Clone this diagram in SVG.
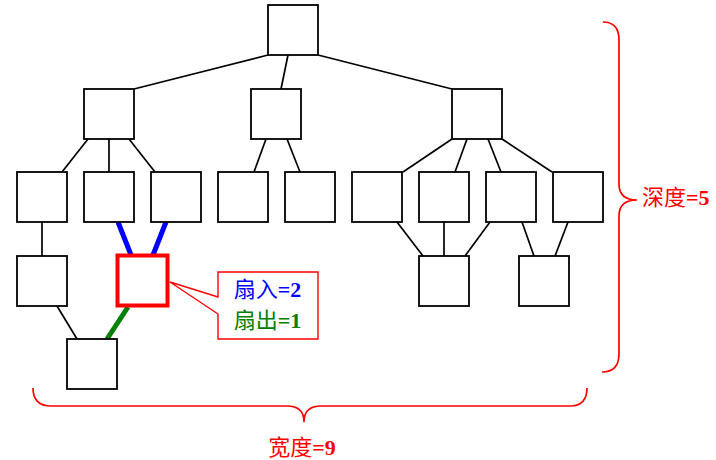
<svg xmlns="http://www.w3.org/2000/svg" width="716" height="460" viewBox="0 0 716 460">
<style>
.box{fill:#fff;stroke:#000;stroke-width:1.8}
.ln{stroke:#000;stroke-width:1.7;fill:none}
.brace{fill:none;stroke:#ff0000;stroke-width:1.7}
.cjk{font-family:"Liberation Serif","Noto Sans CJK SC",serif;font-size:22px}
.num{font-weight:bold}
</style>
<rect width="716" height="460" fill="#fff"/>
<g id="connectors">
<line class="ln" x1="268" y1="55" x2="134" y2="89"/>
<line class="ln" x1="288" y1="55" x2="281" y2="89"/>
<line class="ln" x1="318" y1="55" x2="452" y2="89"/>
<line class="ln" x1="88" y1="139" x2="62" y2="172"/>
<line class="ln" x1="109" y1="139" x2="109" y2="172"/>
<line class="ln" x1="129" y1="139" x2="155" y2="172"/>
<line class="ln" x1="266" y1="139" x2="254" y2="172"/>
<line class="ln" x1="287" y1="139" x2="300" y2="172"/>
<line class="ln" x1="452" y1="139" x2="403" y2="172"/>
<line class="ln" x1="467" y1="139" x2="455" y2="172"/>
<line class="ln" x1="488" y1="139" x2="501" y2="172"/>
<line class="ln" x1="502" y1="139" x2="552" y2="172"/>
<line class="ln" x1="42" y1="222" x2="42" y2="256"/>
<line class="ln" x1="397" y1="222" x2="423" y2="256"/>
<line class="ln" x1="444" y1="222" x2="444" y2="256"/>
<line class="ln" x1="490" y1="222" x2="465" y2="256"/>
<line class="ln" x1="522" y1="222" x2="534" y2="256"/>
<line class="ln" x1="568" y1="222" x2="555" y2="256"/>
<line class="ln" x1="57" y1="306" x2="77" y2="339"/>
<line x1="118" y1="222" x2="131" y2="255" stroke="#0000ff" stroke-width="5"/>
<line x1="166" y1="222" x2="153" y2="255" stroke="#0000ff" stroke-width="5"/>
<line x1="128" y1="307" x2="107" y2="339" stroke="#008000" stroke-width="5"/>
</g>
<g id="n0"><rect class="box" x="268" y="5" width="50" height="50"/></g>
<g id="n1"><rect class="box" x="84" y="89" width="50" height="50"/></g>
<g id="n2"><rect class="box" x="251" y="89" width="50" height="50"/></g>
<g id="n3"><rect class="box" x="452" y="89" width="50" height="50"/></g>
<g id="n4"><rect class="box" x="17" y="172" width="50" height="50"/></g>
<g id="n5"><rect class="box" x="84" y="172" width="50" height="50"/></g>
<g id="n6"><rect class="box" x="151" y="172" width="50" height="50"/></g>
<g id="n7"><rect class="box" x="218" y="172" width="50" height="50"/></g>
<g id="n8"><rect class="box" x="285" y="172" width="50" height="50"/></g>
<g id="n9"><rect class="box" x="352" y="172" width="50" height="50"/></g>
<g id="n10"><rect class="box" x="419" y="172" width="50" height="50"/></g>
<g id="n11"><rect class="box" x="486" y="172" width="50" height="50"/></g>
<g id="n12"><rect class="box" x="553" y="172" width="50" height="50"/></g>
<g id="n13"><rect class="box" x="17" y="256" width="50" height="50"/></g>
<g id="n14"><rect x="117.5" y="255.5" width="50" height="50" fill="#fff" stroke="#ff0000" stroke-width="4"/></g>
<g id="n15"><rect class="box" x="419" y="256" width="50" height="50"/></g>
<g id="n16"><rect class="box" x="519" y="256" width="50" height="50"/></g>
<g id="n17"><rect class="box" x="67" y="339" width="50" height="50"/></g>
<g id="callout">
<path d="M218,272 H318 V339 H218 V314 L170,282 L218,297 Z" fill="#fff" stroke="#ff0000" stroke-width="1.4"/>
<text class="cjk" x="267.5" y="297" text-anchor="middle" fill="#0000ff">扇入<tspan class="num">=2</tspan></text>
<text class="cjk" x="267.5" y="328" text-anchor="middle" fill="#008000">扇出<tspan class="num">=1</tspan></text>
</g>
<g id="depth">
<path class="brace" d="M603,22 Q619,22 619,40 L619,184 Q619,200 637,200 Q619,200 619,216 L619,354 Q619,372 602,372"/>
<text class="cjk" x="642" y="205" fill="#ff0000">深度<tspan class="num">=5</tspan></text>
</g>
<g id="width">
<path class="brace" d="M33,388 Q33,406 51,406 L287,406 Q304,406 304,422 Q304,406 321,406 L570,406 Q587,406 587,388"/>
<text class="cjk" x="302" y="455" text-anchor="middle" fill="#ff0000">宽度<tspan class="num">=9</tspan></text>
</g>
</svg>
